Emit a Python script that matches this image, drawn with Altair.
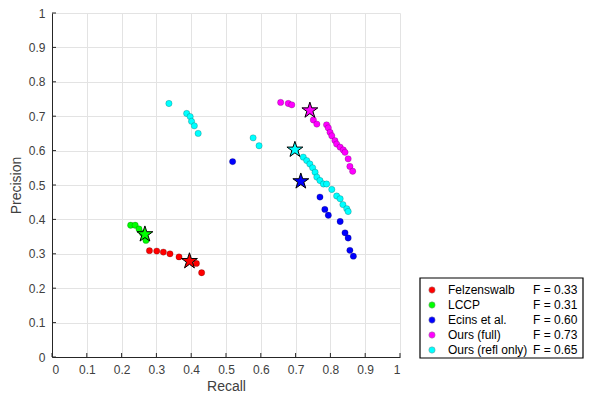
import math
import altair as alt
import pandas as pd

methods = ["Felzenswalb", "LCCP", "Ecins et al.", "Ours (full)", "Ours (refl only)"]
colors = ["#ff0000", "#00ff00", "#0000ff", "#ff00ff", "#00ffff"]
f_scores = ["F = 0.33", "F = 0.31", "F = 0.60", "F = 0.73", "F = 0.65"]

felz_recall = [0.280, 0.301, 0.320, 0.339, 0.365, 0.415, 0.430]
felz_prec = [0.309, 0.308, 0.305, 0.300, 0.291, 0.272, 0.245]

lccp_recall = [0.226, 0.239, 0.250, 0.260, 0.270]
lccp_prec = [0.383, 0.383, 0.372, 0.360, 0.339]

ecins_recall = [0.519, 0.770, 0.784, 0.794, 0.828, 0.842, 0.851, 0.856, 0.866]
ecins_prec = [0.568, 0.465, 0.429, 0.412, 0.394, 0.361, 0.346, 0.310, 0.293]

full_recall = [0.657, 0.679, 0.689, 0.751, 0.761, 0.789, 0.794, 0.799, 0.804, 0.813,
               0.818, 0.828, 0.837, 0.842, 0.851, 0.856, 0.864]
full_prec = [0.740, 0.737, 0.733, 0.689, 0.677, 0.675, 0.666, 0.653, 0.643, 0.629,
             0.619, 0.610, 0.602, 0.595, 0.576, 0.554, 0.540]

refl_recall = [0.336, 0.387, 0.397, 0.401, 0.409, 0.420, 0.578, 0.595, 0.722, 0.732,
               0.741, 0.749, 0.756, 0.761, 0.770, 0.780, 0.789, 0.804, 0.818, 0.828,
               0.836, 0.847, 0.851]
refl_prec = [0.737, 0.708, 0.699, 0.685, 0.672, 0.650, 0.637, 0.614, 0.581, 0.571,
             0.561, 0.550, 0.537, 0.523, 0.513, 0.503, 0.503, 0.487, 0.468, 0.460,
             0.443, 0.431, 0.423]

star_recall = [0.395, 0.267, 0.715, 0.741, 0.698]
star_prec = [0.281, 0.359, 0.513, 0.719, 0.605]

tick_values = [0, 0.1, 0.2, 0.3, 0.4, 0.5, 0.6, 0.7, 0.8, 0.9, 1]

series = [(felz_recall, felz_prec), (lccp_recall, lccp_prec), (ecins_recall, ecins_prec),
          (full_recall, full_prec), (refl_recall, refl_prec)]
rows = []
for m, (rr, pp) in zip(methods, series):
    for r, p in zip(rr, pp):
        rows.append({"method": m, "recall": r, "precision": p})
points_df = pd.DataFrame(rows)
stars_df = pd.DataFrame({"method": methods, "recall": star_recall, "precision": star_prec})
legend_df = pd.DataFrame({"f": f_scores})
ticks_df = pd.DataFrame({"recall": tick_values, "precision": tick_values})

# five-pointed star symbol path (unit box)
pts_path = []
for k in range(10):
    ang = math.radians(-90 + 36 * k)
    r = 1.0 if k % 2 == 0 else 0.382
    pts_path.append(f"{r * math.cos(ang):.4f},{r * math.sin(ang) + 0.095:.4f}")
STAR = "M" + "L".join(pts_path) + "Z"

W, H = 348, 344
FONT = "Liberation Sans"
color_scale = alt.Scale(domain=methods, range=colors)

xscale = alt.Scale(domain=[0, 1], nice=False)
yscale = alt.Scale(domain=[0, 1], nice=False)
xaxis = alt.Axis(values=tick_values, format="~g", title="Recall")
yaxis = alt.Axis(values=tick_values, format="~g", title="Precision")


def X():
    return alt.X("recall:Q", scale=xscale, axis=xaxis)


def Y():
    return alt.Y("precision:Q", scale=yscale, axis=yaxis)


box = alt.Chart(pd.DataFrame({"k": [0]})).mark_rect(
    fill="white", stroke="black", strokeWidth=1.2).encode(
    x=alt.value(368), x2=alt.value(531), y=alt.value(265), y2=alt.value(345))

pts = alt.Chart(points_df).mark_circle(size=40, opacity=1, stroke="black",
                                       strokeOpacity=0.25, strokeWidth=0.8).encode(
    x=X(), y=Y(),
    color=alt.Color("method:N", scale=color_scale, sort=methods,
                    legend=alt.Legend(orient="none", legendX=374, legendY=271, title=None,
                                      symbolType="circle", symbolSize=40, padding=0,
                                      labelFont=FONT, labelFontSize=12, labelColor="black",
                                      labelOffset=10, rowPadding=3,
                                      symbolStrokeColor="#888888", symbolStrokeWidth=0.5)),
)

stars = alt.Chart(stars_df).mark_point(shape=STAR, size=280, filled=True, opacity=1,
                                       stroke="black", strokeWidth=1).encode(
    x=X(), y=Y(),
    fill=alt.Fill("method:N", scale=color_scale, legend=None),
)

xticks = alt.Chart(ticks_df).mark_rule(color="#262626", strokeWidth=1).encode(
    x=X(), y=alt.value(H), y2=alt.value(H - 4))
yticks = alt.Chart(ticks_df).mark_rule(color="#262626", strokeWidth=1).encode(
    y=Y(), x=alt.value(0), x2=alt.value(4))

fleg = alt.Chart(legend_df).mark_point(size=0, opacity=0).encode(
    x=alt.value(0), y=alt.value(0),
    shape=alt.Shape("f:N", sort=f_scores,
                    scale=alt.Scale(domain=f_scores, range=["circle"] * 5),
                    legend=alt.Legend(orient="none", legendX=465, legendY=271, title=None,
                                      symbolSize=40, symbolOpacity=0, symbolStrokeWidth=0,
                                      padding=0,
                                      labelFont=FONT, labelFontSize=12, labelColor="black",
                                      labelOffset=4, rowPadding=3)),
)

chart = alt.layer(pts, box, xticks, yticks, stars, fleg).properties(
    width=W, height=H,
    autosize=alt.AutoSizeParams(type="none"),
    padding={"left": 44, "top": 5, "right": 184, "bottom": 36},
).configure_view(stroke=None).configure_axis(
    grid=True, gridColor="#e3e3e3", gridWidth=1,
    domainColor="#262626", domainWidth=1,
    ticks=False, labelFont=FONT, titleFont=FONT,
    labelFontSize=12, labelColor="#404040", labelPadding=7,
    titleFontSize=14, titleColor="#404040", titleFontWeight="normal",
).configure_axisX(titlePadding=4).configure_axisY(titlePadding=5)

chart.save("out.html", embed_options={"renderer": "svg", "actions": False})
